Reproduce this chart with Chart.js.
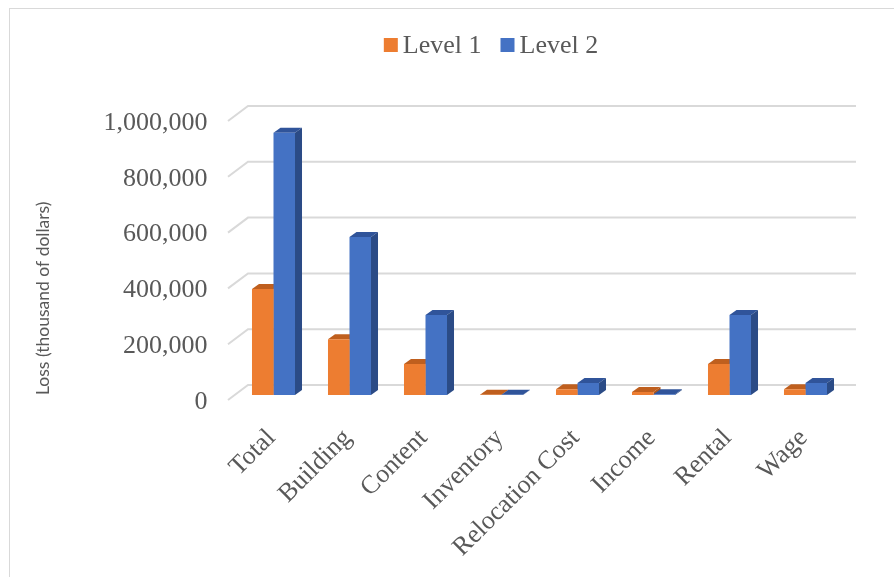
<!DOCTYPE html>
<html>
<head>
<meta charset="utf-8">
<script src="https://cdn.jsdelivr.net/npm/chart.js@4/dist/chart.umd.min.js"></script>
<style>
  html, body { margin: 0; padding: 0; background: #fff; }
  #wrap { width: 894px; height: 577px; position: relative; }
</style>
</head>
<body>
<div id="wrap"><canvas id="lossChart" width="894" height="577"></canvas></div>
<script>
// data (thousand of dollars)
const categories = ["Total", "Building", "Content", "Inventory", "Relocation Cost", "Income", "Rental", "Wage"];
const level1 = [380000, 200000, 111000, 1000, 21000, 11000, 111000, 21000];
const level2 = [940000, 566000, 287000, 500, 43000, 3000, 287000, 43000];
const yMax = 1000000;
const yStep = 200000;

const textGrey = "#595959";
const serif = "'Liberation Serif', 'Times New Roman', serif";

// back wall gridlines with the little slanted floor piece on the left
const wallGrid = {
    id: "wallGrid",
    beforeDatasetsDraw(chart) {
        const ctx = chart.ctx;
        const y = chart.scales.y;
        const a = chart.chartArea;
        ctx.save();
        ctx.strokeStyle = "#d9d9d9";
        ctx.lineWidth = 2;
        y.ticks.forEach(t => {
            const py = y.getPixelForValue(t.value);
            ctx.beginPath();
            ctx.moveTo(a.left - 7.5, py + 5);
            ctx.lineTo(a.left + 12.5, py - 10);
            ctx.lineTo(a.right + 12.5, py - 10);
            ctx.stroke();
        });
        ctx.restore();
    }
};

// fake 3D: top and side faces behind the flat bars
const barDepth = {
    id: "barDepth",
    beforeDatasetsDraw(chart) {
        const ctx = chart.ctx;
        const dx = 7, dy = 5;
        ctx.save();
        chart.data.datasets.forEach((ds, i) => {
            chart.getDatasetMeta(i).data.forEach(bar => {
                const p = bar.getProps(["x", "y", "base", "width"], true);
                const l = p.x - p.width / 2, r = p.x + p.width / 2;
                ctx.fillStyle = ds.topColor;
                ctx.beginPath();
                ctx.moveTo(l, p.y);
                ctx.lineTo(r, p.y);
                ctx.lineTo(r + dx, p.y - dy);
                ctx.lineTo(l + dx, p.y - dy);
                ctx.closePath();
                ctx.fill();
                ctx.fillStyle = ds.sideColor;
                ctx.beginPath();
                ctx.moveTo(r, p.y);
                ctx.lineTo(r + dx, p.y - dy);
                ctx.lineTo(r + dx, p.base - dy);
                ctx.lineTo(r, p.base);
                ctx.closePath();
                ctx.fill();
            });
        });
        ctx.restore();
    }
};

// legend + outer frame
const frameLegend = {
    id: "frameLegend",
    afterDraw(chart) {
        const ctx = chart.ctx;
        ctx.save();
        ctx.strokeStyle = "#d9d9d9";
        ctx.lineWidth = 1;
        ctx.strokeRect(9.5, 8.5, 900, 600);

        ctx.font = "26px " + serif;
        ctx.textBaseline = "middle";
        const box = 14, gapText = 5, gapItem = 19;
        const items = chart.data.datasets.map(ds => ({ text: ds.label, color: ds.backgroundColor, w: ctx.measureText(ds.label).width }));
        let total = 0;
        items.forEach((it, k) => { total += box + gapText + it.w + (k ? gapItem : 0); });
        let x = 491 - total / 2;
        const cy = 45;
        items.forEach(it => {
            ctx.fillStyle = it.color;
            ctx.fillRect(x, cy - 7, box, box);
            ctx.fillStyle = textGrey;
            ctx.fillText(it.text, x + box + gapText, cy + 1);
            x += box + gapText + it.w + gapItem;
        });
        ctx.restore();
    }
};

new Chart(document.getElementById("lossChart"), {
    type: "bar",
    data: {
        labels: categories,
        datasets: [
            { label: "Level 1", data: level1, backgroundColor: "#ED7D31", topColor: "#BF5F1E", sideColor: "#AE5519" },
            { label: "Level 2", data: level2, backgroundColor: "#4472C4", topColor: "#30549A", sideColor: "#2B4B86" }
        ]
    },
    options: {
        responsive: false,
        animation: false,
        layout: { padding: { top: 116, right: 50.5, bottom: 0, left: 0 } },
        datasets: { bar: { categoryPercentage: 0.566, barPercentage: 1 } },
        plugins: {
            legend: { display: false },
            tooltip: { enabled: false }
        },
        scales: {
            x: {
                grid: { display: false, drawTicks: false },
                border: { display: false },
                ticks: {
                    color: textGrey,
                    font: { family: serif, size: 26 },
                    minRotation: 45,
                    maxRotation: 45,
                    autoSkip: false,
                    padding: 28,
                    labelOffset: -2
                },
                afterFit: s => { s.height = 577 - 395; }
            },
            y: {
                min: 0,
                max: yMax,
                grid: { display: false, drawTicks: false },
                border: { display: false },
                ticks: {
                    stepSize: yStep,
                    color: textGrey,
                    font: { family: serif, size: 26 },
                    padding: 28,
                    labelOffset: 7,
                    callback: v => v.toLocaleString("en-US")
                },
                title: {
                    display: true,
                    text: "Loss (thousand of dollars)",
                    align: "start",
                    color: textGrey,
                    font: { family: "Lato, sans-serif", size: 17.5 },
                    padding: { top: 33, bottom: 0 }
                },
                afterFit: s => { s.width = 235.5; }
            }
        }
    },
    plugins: [wallGrid, barDepth, frameLegend]
});
</script>
</body>
</html>
